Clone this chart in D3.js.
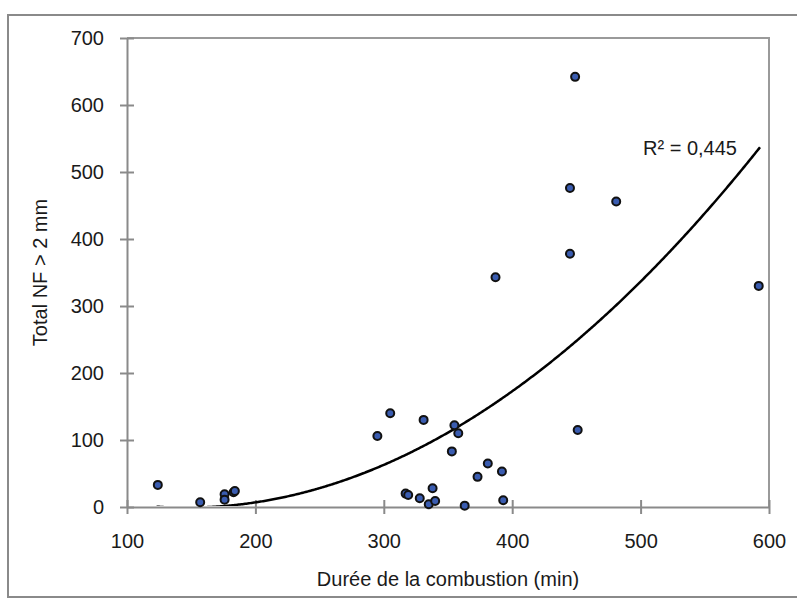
<!DOCTYPE html>
<html>
<head>
<meta charset="utf-8">
<script src="https://cdn.jsdelivr.net/npm/d3@7"></script>
<style>
  html, body { margin: 0; padding: 0; background: #fff; }
  svg { display: block; }
  text { font-family: "Liberation Sans", Arial, sans-serif; fill: #1a1a1a; }
</style>
</head>
<body>
<svg id="chart" width="797" height="609"></svg>
<script>
// ---- data ----
const durations = [124, 157, 176, 176, 183, 184, 295, 305, 317, 319, 328, 331, 335, 338, 340,
                   353, 355, 358, 363, 373, 381, 387, 392, 393, 445, 445, 449, 451, 481, 592];
const totalNF   = [33, 7, 19, 11, 22, 24, 106, 140, 20, 18, 13, 130, 4, 28, 9,
                   83, 122, 110, 2, 45, 65, 343, 53, 10, 476, 378, 642, 115, 456, 330];
const xTicks = [100, 200, 300, 400, 500, 600];
const yTicks = [0, 100, 200, 300, 400, 500, 600, 700];
// polynomial (order 2) trendline as displayed: y = c0 + c1*x + c2*x^2
const trendCoef = [56.41, -0.786, 0.002692];
const trendRange = [123, 593];
const r2Label = "R² = 0,445";
const xTitle = "Durée de la combustion (min)";
const yTitle = "Total NF > 2 mm";

// ---- layout ----
const svg = d3.select("#chart");
const plot = { left: 127, right: 769, top: 38, bottom: 507 };
const x = d3.scaleLinear().domain([100, 600]).range([plot.left, plot.right]);
const y = d3.scaleLinear().domain([0, 700]).range([plot.bottom, plot.top]);
const gray = "#8a8a8a";

// outer chart frame
svg.append("rect")
  .attr("x", 8).attr("y", 15).attr("width", 820).attr("height", 582)
  .attr("fill", "none").attr("stroke", gray).attr("stroke-width", 2);

// plot area border (top & right)
svg.append("path")
  .attr("d", `M${plot.left},${plot.top}H${plot.right}V${plot.bottom}`)
  .attr("fill", "none").attr("stroke", "#9a9a9a").attr("stroke-width", 2);

// axes
const xAxis = d3.axisBottom(x).tickValues(xTicks).tickSizeInner(7).tickSizeOuter(0).tickPadding(20);
const yAxis = d3.axisLeft(y).tickValues(yTicks).tickSizeInner(7).tickSizeOuter(0).tickPadding(16);

const gx = svg.append("g").attr("transform", `translate(0,${plot.bottom})`).call(xAxis);
const gy = svg.append("g").attr("transform", `translate(${plot.left},0)`).call(yAxis);

[gx, gy].forEach(g => {
  g.select(".domain").attr("stroke", gray).attr("stroke-width", 2);
  g.selectAll(".tick line").attr("stroke", gray).attr("stroke-width", 2);
  g.selectAll(".tick text").attr("font-size", 20).attr("fill", "#1a1a1a")
    .attr("font-family", "Liberation Sans, Arial, sans-serif");
});
// cross ticks (extend across the axis)
gx.selectAll(".tick line").attr("y1", -7).attr("y2", 7);
gy.selectAll(".tick line").attr("x1", -7).attr("x2", 7);

// trendline
svg.append("clipPath").attr("id", "pclip")
  .append("rect").attr("x", plot.left).attr("y", plot.top)
  .attr("width", plot.right - plot.left).attr("height", plot.bottom - plot.top - 1);
const trendPts = d3.range(trendRange[0], trendRange[1] + 0.5, 1).map(v =>
  [v, trendCoef[0] + trendCoef[1] * v + trendCoef[2] * v * v]);
svg.append("path")
  .attr("clip-path", "url(#pclip)")
  .attr("d", d3.line().x(d => x(d[0])).y(d => y(d[1]))(trendPts))
  .attr("fill", "none").attr("stroke", "#000").attr("stroke-width", 2.5);

// points
svg.append("g").selectAll("circle")
  .data(durations.map((d, i) => [d, totalNF[i]]))
  .join("circle")
  .attr("cx", d => x(d[0])).attr("cy", d => y(d[1]))
  .attr("r", 4)
  .attr("fill", "#3a5cb0").attr("stroke", "#111").attr("stroke-width", 2);

// R² label
svg.append("text").attr("x", 643).attr("y", 155)
  .attr("font-size", 20).text(r2Label);

// axis titles
svg.append("text")
  .attr("x", (plot.left + plot.right) / 2).attr("y", 586)
  .attr("text-anchor", "middle").attr("font-size", 20).text(xTitle);
svg.append("text")
  .attr("transform", `translate(47,${(plot.top + plot.bottom) / 2}) rotate(-90)`)
  .attr("text-anchor", "middle").attr("font-size", 20).text(yTitle);
</script>
</body>
</html>
